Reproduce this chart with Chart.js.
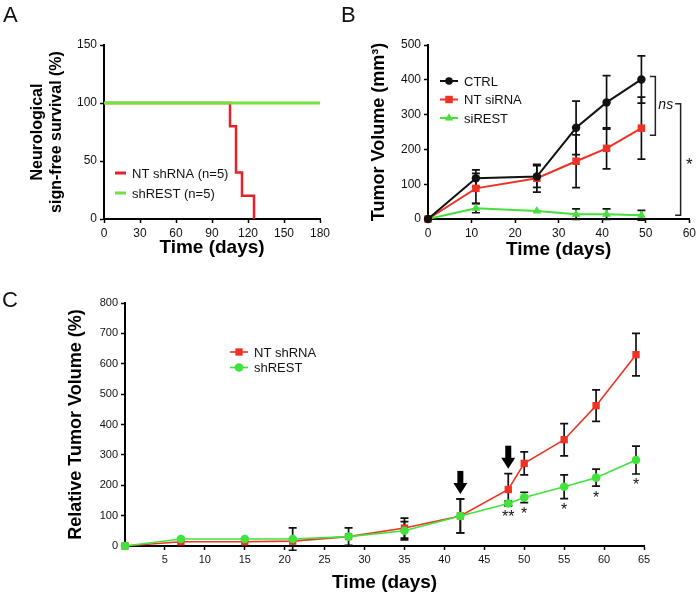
<!DOCTYPE html>
<html>
<head>
<meta charset="utf-8">
<script src="https://cdn.jsdelivr.net/npm/chart.js@4.4.1/dist/chart.umd.min.js"></script>
<style>
  html, body { margin: 0; padding: 0; background: #fff; }
  body { width: 699px; height: 596px; position: relative; overflow: hidden; font-family: 'Liberation Sans', Arial, sans-serif; }
  canvas { position: absolute; }
  .tag { position: absolute; font-size: 22px; line-height: 1; color: #111; }
</style>
</head>
<body>
<canvas id="chartA" width="340" height="290" style="left:0;top:0"></canvas>
<canvas id="chartB" width="359" height="290" style="left:340px;top:0"></canvas>
<canvas id="chartC" width="699" height="306" style="left:0;top:290px"></canvas>
<div class="tag" style="left:3px;top:4px">A</div>
<div class="tag" style="left:341px;top:4px">B</div>
<div class="tag" style="left:2px;top:289px">C</div>
<script>
// Panel A - neurological sign-free survival
const survDaysNT = [0, 105, 110, 115, 125];
const survNT = [100, 80, 40, 20, 0];
const survDaysREST = [0, 180];
const survREST = [100, 100];

// Panel B - tumor volume (mm3)
const daysB = [0, 11, 25, 34, 41, 49];
const ctrlB = [0, 117, 122, 262, 335, 401];
const ctrlErrB = [0, 24, 31, 77, 77, 68];
const ntB = [0, 88, 117, 166, 203, 261];
const ntErrB = [0, 43, 40, 76, 59, 89];
const restB = [0, 31, 23, 14, 14, 11];
const restErrB = [0, 13, 0, 15, 15, 14];

// Panel C - relative tumor volume (%)
const daysC = [0, 7, 15, 21, 28, 35, 42, 48, 50, 55, 59, 64];
const ntC = [0, 14, 14, 16, 31, 59, 99, 186, 272, 350, 462, 630];
const ntErrC = [0, 0, 0, 0, 0, 33, 56, 52, 38, 53, 52, 70];
const restC = [0, 23, 23, 23, 31, 50, 99, 140, 160, 195, 225, 283];
const restErrC = [0, 0, 0, 37, 29, 30, 56, 8, 17, 39, 28, 46];
const arrowDays = [42, 48];
const starDays = [48, 50, 55, 59, 64];
const starText = ['**', '*', '*', '*', '*'];

const FONT = "'Liberation Sans', Arial, Helvetica, sans-serif";
Chart.defaults.font.family = FONT;
Chart.defaults.color = '#111';
Chart.defaults.animation = false;

const RED = '#ee3324';
const GREEN = '#3fe33a';

function pts(xs, ys) {
  return xs.map((x, i) => ({ x: x, y: ys[i] }));
}

function axis(min, max, step, tickSize, title, titleSize, titlePad, fitSize, isY) {
  return {
    type: 'linear', min: min, max: max,
    ticks: { stepSize: step, font: { size: tickSize }, color: '#111', padding: 3, maxRotation: 0 },
    grid: { drawOnChartArea: false, drawTicks: true, tickLength: 4, tickColor: '#000', tickWidth: 1.5 },
    border: { display: true, color: '#000', width: 2 },
    title: {
      display: true, text: title, color: '#000',
      font: { size: titleSize, weight: 'bold' },
      padding: isY ? { top: titlePad } : { bottom: titlePad }
    },
    afterFit(scale) {
      if (isY) scale.width = fitSize; else scale.height = fitSize;
    }
  };
}

function marker(ctx, style, x, y, r) {
  ctx.beginPath();
  if (style === 'rect') {
    const s = r * Math.SQRT1_2;
    ctx.rect(x - s, y - s, 2 * s, 2 * s);
  } else if (style === 'triangle') {
    ctx.moveTo(x, y - r);
    ctx.lineTo(x + r * 0.866, y + r * 0.5);
    ctx.lineTo(x - r * 0.866, y + r * 0.5);
    ctx.closePath();
  } else {
    ctx.arc(x, y, r, 0, Math.PI * 2);
  }
  ctx.fill();
}

// legend drawn inside the plot at a fixed spot
function inlineLegend(items, x, y, dy, len, fontSize) {
  return {
    id: 'inlineLegend',
    afterDraw(chart) {
      const ctx = chart.ctx;
      ctx.save();
      items.forEach((it, i) => {
        const yy = y + i * dy;
        ctx.strokeStyle = it.color;
        ctx.lineWidth = it.width;
        ctx.beginPath();
        ctx.moveTo(x, yy);
        ctx.lineTo(x + len, yy);
        ctx.stroke();
        if (it.style) {
          ctx.fillStyle = it.color;
          marker(ctx, it.style, x + len / 2, yy, it.radius);
        }
        ctx.fillStyle = '#111';
        ctx.font = fontSize + 'px ' + FONT;
        ctx.textAlign = 'left';
        ctx.textBaseline = 'middle';
        ctx.fillText(it.label, x + len + 6, yy + 1);
      });
      ctx.restore();
    }
  };
}

// error bars, read from dataset.errors
const errorBars = {
  id: 'errorBars',
  beforeDatasetsDraw(chart) {
    const { ctx, scales: { x, y } } = chart;
    ctx.save();
    ctx.strokeStyle = '#111';
    ctx.lineWidth = 1.7;
    chart.data.datasets.forEach((ds) => {
      if (!ds.errors) return;
      ds.data.forEach((p, i) => {
        const e = ds.errors[i];
        if (!e) return;
        const px = x.getPixelForValue(p.x);
        const top = y.getPixelForValue(p.y + e);
        const bot = y.getPixelForValue(p.y - e);
        ctx.beginPath();
        ctx.moveTo(px, top); ctx.lineTo(px, bot);
        ctx.moveTo(px - 4, top); ctx.lineTo(px + 4, top);
        ctx.moveTo(px - 4, bot); ctx.lineTo(px + 4, bot);
        ctx.stroke();
      });
    });
    ctx.restore();
  }
};

const common = {
  responsive: false,
  animation: false,
  events: [],
  plugins: { legend: { display: false }, tooltip: { enabled: false } }
};

// ---------- A ----------
new Chart(document.getElementById('chartA'), {
  type: 'line',
  data: {
    datasets: [
      { data: pts(survDaysREST, survREST), borderColor: '#72e23c', borderWidth: 3, pointRadius: 0, order: 1, clip: false },
      { data: pts(survDaysNT, survNT), borderColor: '#e8202a', borderWidth: 2.5, pointRadius: 0, stepped: 'before', order: 2, clip: false }
    ]
  },
  options: Object.assign({}, common, {
    layout: { padding: { left: 0, top: 45, right: 20, bottom: 0 } },
    scales: {
      x: axis(0, 180, 30, 12, 'Time (days)', 19, 31, 71, false),
      y: axis(0, 150, 50, 12, ['Neurological', 'sign-free survival (%)'], 16, 28, 104, true)
    }
  }),
  plugins: [inlineLegend([
    { label: 'NT shRNA (n=5)', color: '#e8202a', width: 3 },
    { label: 'shREST (n=5)', color: '#72e23c', width: 3 }
  ], 115, 173, 20, 11, 13)]
});

// ---------- B ----------
const bracketsB = {
  id: 'bracketsB',
  afterDatasetsDraw(chart) {
    const { ctx, scales: { x, y } } = chart;
    const n = daysB.length - 1;
    ctx.save();
    ctx.strokeStyle = '#222';
    ctx.lineWidth = 1.5;
    function bracket(xv, y1, y2) {
      const px = x.getPixelForValue(xv);
      ctx.beginPath();
      ctx.moveTo(px - 5.5, y1); ctx.lineTo(px, y1); ctx.lineTo(px, y2); ctx.lineTo(px - 5.5, y2);
      ctx.stroke();
    }
    const mid = (ctrlB[n] + ntB[n]) / 2;
    bracket(52.2, y.getPixelForValue(ctrlB[n]) - 3, y.getPixelForValue(ntB[n]) + 7);
    bracket(58, y.getPixelForValue(mid), y.getPixelForValue(restB[n]));
    ctx.fillStyle = '#111';
    ctx.textBaseline = 'middle';
    ctx.textAlign = 'left';
    ctx.font = 'italic 14px ' + FONT;
    ctx.fillText('ns', x.getPixelForValue(52.2) + 3, y.getPixelForValue(mid) + 1);
    ctx.textAlign = 'center';
    ctx.font = '17px ' + FONT;
    ctx.fillText('*', x.getPixelForValue(60), y.getPixelForValue(mid / 2) + 4);
    ctx.restore();
  }
};

new Chart(document.getElementById('chartB'), {
  type: 'line',
  data: {
    datasets: [
      { data: pts(daysB, ctrlB), errors: ctrlErrB, borderColor: '#111', backgroundColor: '#111', borderWidth: 2,
        pointStyle: 'circle', pointRadius: 4.2, pointBorderWidth: 0, clip: false },
      { data: pts(daysB, ntB), errors: ntErrB, borderColor: RED, backgroundColor: RED, borderWidth: 2,
        pointStyle: 'rect', pointRadius: 5.3, pointBorderWidth: 0, clip: false },
      { data: pts(daysB, restB), errors: restErrB, borderColor: '#45e03c', backgroundColor: '#45e03c', borderWidth: 2,
        pointStyle: 'triangle', pointRadius: 5, pointBorderWidth: 0, clip: false }
    ]
  },
  options: Object.assign({}, common, {
    layout: { padding: { left: 0, top: 45, right: 9, bottom: 0 } },
    scales: {
      x: axis(0, 60, 10, 12, 'Time (days)', 19, 29, 71, false),
      y: axis(0, 500, 100, 12, 'Tumor Volume (mm\u00B3)', 18, 28, 88, true)
    }
  }),
  plugins: [errorBars, bracketsB, inlineLegend([
    { label: 'CTRL', color: '#111', width: 2, style: 'circle', radius: 3.8 },
    { label: 'NT siRNA', color: RED, width: 2, style: 'rect', radius: 5.3 },
    { label: 'siREST', color: '#45e03c', width: 2, style: 'triangle', radius: 4.8 }
  ], 100, 81, 18.5, 18, 13)]
});

// ---------- C ----------
const marksC = {
  id: 'marksC',
  afterDatasetsDraw(chart) {
    const { ctx, scales: { x, y } } = chart;
    ctx.save();
    ctx.fillStyle = '#000';
    arrowDays.forEach((d) => {
      const i = daysC.indexOf(d);
      const px = x.getPixelForValue(d);
      const tip = y.getPixelForValue(ntC[i] + ntErrC[i]) - 5;
      const top = tip - 23;
      ctx.fillRect(px - 3, top, 6, 13);
      ctx.beginPath();
      ctx.moveTo(px - 7, tip - 11);
      ctx.lineTo(px + 7, tip - 11);
      ctx.lineTo(px, tip);
      ctx.closePath();
      ctx.fill();
    });
    ctx.fillStyle = '#111';
    ctx.font = '16px ' + FONT;
    ctx.textAlign = 'center';
    ctx.textBaseline = 'middle';
    starDays.forEach((d, k) => {
      const i = daysC.indexOf(d);
      const px = x.getPixelForValue(d);
      const py = y.getPixelForValue(restC[i] - restErrC[i]) + 12;
      ctx.fillText(starText[k], px, py);
    });
    ctx.restore();
  }
};

new Chart(document.getElementById('chartC'), {
  type: 'line',
  data: {
    datasets: [
      { data: pts(daysC, ntC), errors: ntErrC, borderColor: RED, backgroundColor: RED, borderWidth: 1.6,
        pointStyle: 'rect', pointRadius: 5.2, pointBorderWidth: 0, order: 2, clip: false },
      { data: pts(daysC, restC), errors: restErrC, borderColor: GREEN, backgroundColor: GREEN, borderWidth: 1.6,
        pointStyle: 'circle', pointRadius: 4.3, pointBorderWidth: 0, order: 1, clip: false }
    ]
  },
  options: Object.assign({}, common, {
    layout: { padding: { left: 0, top: 13, right: 55, bottom: 0 } },
    scales: {
      x: axis(0, 65, 5, 11, 'Time (days)', 19, 2, 50, false),
      y: axis(0, 800, 100, 11, 'Relative Tumor Volume (%)', 18, 65, 125, true)
    }
  }),
  plugins: [errorBars, marksC, inlineLegend([
    { label: 'NT shRNA', color: RED, width: 1.6, style: 'rect', radius: 5.2 },
    { label: 'shREST', color: GREEN, width: 1.6, style: 'circle', radius: 4.3 }
  ], 230, 62, 15.5, 18, 13)]
});
// hide the 0 label on C's x axis
const cChart = Chart.getChart('chartC');
cChart.options.scales.x.ticks.callback = (v) => (v === 0 ? '' : v);
cChart.update();
</script>
</body>
</html>
